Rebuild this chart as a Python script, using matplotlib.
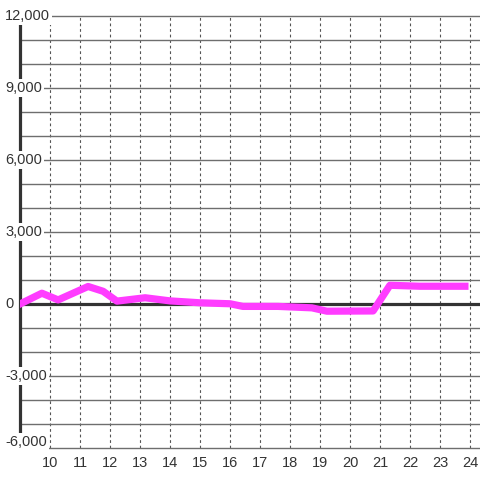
import numpy as np
import matplotlib.pyplot as plt

plt.rcParams.update({"font.family": "Liberation Sans", "font.size": 10.5})

hours = [9.0, 9.73, 10.27, 11.27, 11.77, 12.23, 13.17, 14.0, 15.0, 16.0,
         16.43, 17.6, 18.73, 19.23, 20.77, 21.33, 22.33, 23.83]
values = [0, 450, 170, 730, 530, 120, 260, 130, 50, 10,
          -100, -100, -160, -300, -290, 780, 740, 740]

x_ticks = list(range(10, 25))
y_labels = [-6000, -3000, 0, 3000, 6000, 9000, 12000]

fig = plt.figure(figsize=(4.8, 4.8), dpi=100)
ax = fig.add_axes([20 / 480, 32 / 480, 460 / 480, 432 / 480])
ax.set_xlim(9, 9 + 460 / 30)
ax.set_ylim(-6000, 12000)

for s in ["top", "right", "bottom"]:
    ax.spines[s].set_visible(False)
ax.spines["left"].set_color("#333333")
ax.spines["left"].set_linewidth(2.3)

ax.set_yticks(range(-6000, 12001, 1000))
ax.set_yticklabels([])
ax.set_xticks(x_ticks)
ax.tick_params(length=0, colors="#333333", labelsize=10.5, pad=6)
ax.grid(axis="y", color="#6e6e6e", lw=1.0, clip_on=False)
ax.grid(axis="x", color="#555555", lw=0.8, ls=(0, (2.5, 2.5)))

ax.axhline(0, color="#333333", lw=2.3, zorder=2.6)
ax.plot(hours, values, color="#ff3cff", lw=5.2, solid_joinstyle="round",
        zorder=3)

trans = ax.get_yaxis_transform()
for v in y_labels:
    yv = v + 260 if v == -6000 else v
    ax.text(-15 / 460, yv, f"{v:,}", transform=trans, ha="left", va="center",
            fontsize=10.5, color="#333333", clip_on=False, zorder=5,
            bbox=dict(boxstyle="square,pad=0.15", fc="white", ec="none"))

fig.savefig("out.png", dpi=100)
